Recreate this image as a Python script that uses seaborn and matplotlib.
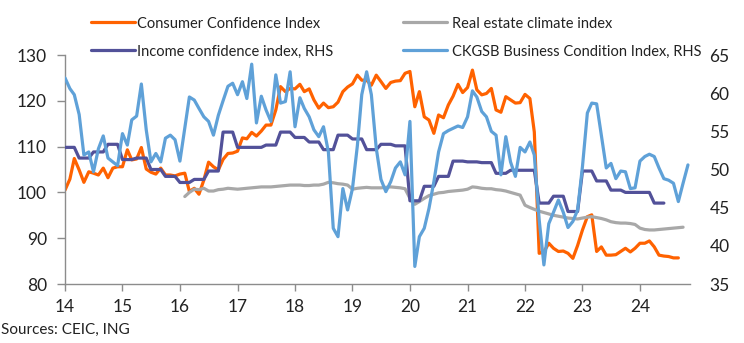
import numpy as np
import pandas as pd
import matplotlib
matplotlib.use("Agg")
import matplotlib.pyplot as plt
import matplotlib.dates as mdates
from matplotlib.lines import Line2D
import seaborn as sns

sns.set_style("white")
plt.rcParams['font.family'] = ['Lato', 'DejaVu Sans']

# ---------------- data (monthly, Jan 2014 onwards) ----------------
cci = [100.5, 102.9, 107.4, 104.9, 102.2, 104.5, 104.2, 103.8, 105.3, 103.2, 105.3, 105.6,
       105.6, 109.3, 107.1, 107.3, 109.8, 105.1, 104.4, 104.0, 105.3, 103.8, 103.8, 103.6,
       104.0, 104.2, 100.2, 100.9, 99.6, 102.7, 106.6, 105.6, 104.9, 107.2, 108.5, 108.6,
       109.0, 111.9, 111.7, 113.1, 112.3, 113.4, 114.7, 114.7, 118.0, 123.1, 122.0, 122.7,
       122.6, 123.6, 122.0, 122.6, 120.2, 118.4, 119.5, 118.5, 118.7, 119.7, 122.0, 123.0,
       123.7, 125.6, 124.5, 124.5, 123.4, 125.6, 124.2, 122.7, 124.0, 124.3, 124.4, 126.0,
       126.4, 118.7, 122.0, 116.5, 115.8, 112.9, 116.9, 116.3, 119.1, 121.0, 123.6, 121.8,
       122.9, 126.7, 122.4, 121.3, 121.6, 122.7, 118.0, 117.5, 120.9, 120.2, 119.5, 119.6,
       121.4, 120.5, 113.2, 86.7, 87.0, 88.9, 87.8, 87.1, 87.2, 86.7, 85.6, 88.4,
       91.8, 94.7, 95.1, 87.1, 88.1, 86.3, 86.3, 86.4, 87.1, 87.8, 87.0, 87.8,
       88.9, 88.9, 89.4, 88.1, 86.3, 86.1, 86.0, 85.7, 85.7]

real_estate_start = "2016-02-01"
real_estate = [99.1, 100.0, 100.7, 100.6, 100.9, 100.3, 100.3, 100.6, 100.7, 100.9, 100.8,
               100.7, 100.8, 100.9, 101.0, 101.1, 101.2, 101.2, 101.2, 101.3, 101.4, 101.5, 101.6,
               101.6, 101.6, 101.5, 101.5, 101.6, 101.6, 101.8, 102.2, 102.1, 101.9, 101.8, 101.6,
               100.7, 100.9, 101.0, 101.1, 101.0, 101.0, 101.0, 101.1, 101.2, 101.1, 101.0, 100.8,
               98.7, 97.4, 98.0, 98.7, 99.3, 99.6, 99.9, 100.0, 100.2, 100.3, 100.4, 100.5,
               100.7, 101.2, 101.1, 100.9, 100.8, 100.8, 100.6, 100.5, 100.3, 100.0, 99.7, 99.4,
               97.2, 96.7, 96.3, 95.9, 95.6, 95.3, 95.0, 94.8, 94.6, 94.4, 94.3, 94.2,
               94.4, 94.6, 94.7, 94.5, 94.3, 94.0, 93.6, 93.4, 93.3, 93.3, 93.2, 93.0,
               92.2, 91.9, 91.8, 91.8, 91.9, 92.0, 92.1, 92.2, 92.3, 92.4]

# quarterly survey, 2014Q1 .. 2024Q2 (shown monthly as steps)
income_q = [52.9, 51.5, 52.3, 53.3,
            51.3, 51.5, 50.0, 49.1,
            48.3, 48.7, 49.8, 54.9,
            52.9, 52.9, 53.2, 54.9,
            54.2, 53.6, 52.6, 54.5,
            54.0, 52.6, 53.3, 53.1,
            45.9, 47.8, 49.1, 51.1,
            51.0, 50.9, 49.5, 49.9,
            49.9, 45.6, 46.5, 44.5,
            49.8, 48.5, 47.3, 47.0,
            47.0, 45.6]

ckgsb = [62.0, 60.6, 59.8, 57.2, 51.9, 52.3, 49.7, 52.7, 54.4, 51.5, 51.0, 50.5,
         54.7, 53.2, 56.5, 57.0, 61.2, 55.2, 51.0, 52.1, 51.0, 54.1, 54.5, 53.9,
         51.1, 55.4, 59.5, 59.1, 58.0, 56.9, 56.3, 54.5, 57.1, 59.0, 60.9, 61.3,
         59.8, 61.5, 59.3, 63.8, 56.1, 59.6, 57.8, 56.3, 62.4, 58.7, 58.9, 62.8,
         55.6, 59.4, 58.0, 56.9, 55.2, 54.3, 55.6, 52.3, 42.3, 41.2, 47.5, 44.7,
         47.5, 53.1, 59.8, 62.8, 59.8, 52.8, 48.7, 47.1, 48.4, 50.2, 51.0, 49.3,
         56.3, 37.3, 41.2, 42.3, 44.9, 48.4, 52.3, 54.7, 55.1, 55.4, 55.7, 55.5,
         56.9, 60.3, 59.5, 57.6, 56.9, 55.0, 54.5, 49.3, 54.3, 51.0, 49.1, 52.9,
         52.3, 53.6, 51.9, 43.4, 37.5, 42.9, 44.4, 46.0, 44.4, 42.4, 43.2, 44.7,
         50.4, 57.4, 58.7, 58.6, 54.5, 50.2, 50.8, 48.8, 49.8, 49.7, 47.5, 47.6,
         51.1, 51.7, 52.0, 51.7, 50.2, 48.8, 48.6, 48.2, 45.8, 48.2, 50.6]

labels = ["Consumer Confidence Index", "Real estate climate index",
          "Income confidence index, RHS", "CKGSB Business Condition Index, RHS"]
year_ticks = list(range(2014, 2025))

ORANGE = "#FF6200"
GREY = "#A8A8A8"
VIOLET = "#525199"
BLUE = "#5FA1D8"

income = np.repeat(income_q, 3)

df_cci = pd.DataFrame({"date": pd.date_range("2014-01-01", periods=len(cci), freq="MS"), "v": cci})
df_re = pd.DataFrame({"date": pd.date_range(real_estate_start, periods=len(real_estate), freq="MS"), "v": real_estate})
df_inc = pd.DataFrame({"date": pd.date_range("2014-01-01", periods=len(income), freq="MS"), "v": income})
df_ck = pd.DataFrame({"date": pd.date_range("2014-01-01", periods=len(ckgsb), freq="MS"), "v": ckgsb})

W, H = 744, 343
fig = plt.figure(figsize=(W / 100, H / 100), dpi=100)
ax = fig.add_axes([65 / W, 1 - 284 / H, 625 / W, 229 / H])
ax2 = ax.twinx()

lw = 2.3
sns.lineplot(data=df_cci, x="date", y="v", ax=ax, color=ORANGE, lw=lw, legend=False)
sns.lineplot(data=df_re, x="date", y="v", ax=ax, color=GREY, lw=lw, legend=False)
sns.lineplot(data=df_inc, x="date", y="v", ax=ax2, color=VIOLET, lw=lw, legend=False)
sns.lineplot(data=df_ck, x="date", y="v", ax=ax2, color=BLUE, lw=lw, legend=False)

ax.set_ylim(80, 130)
ax.set_yticks([80, 90, 100, 110, 120, 130])
ax2.set_ylim(35, 65)
ax2.set_yticks([35, 40, 45, 50, 55, 60, 65])
ax.set_xlim(pd.Timestamp("2014-01-01"), pd.Timestamp("2024-11-14"))
ax.set_xticks([pd.Timestamp(f"{y}-01-01") for y in year_ticks])
ax.xaxis.set_major_formatter(mdates.DateFormatter("%y"))

for a in (ax, ax2):
    a.set_xlabel("")
    a.set_ylabel("")
    a.grid(False)
    for s in a.spines.values():
        s.set_visible(False)
ax2.patch.set_visible(False)

spine_c = "#8C8C8C"
ax.spines["left"].set_visible(True)
ax.spines["bottom"].set_visible(True)
ax.spines["left"].set_color(spine_c)
ax.spines["bottom"].set_color(spine_c)
ax.spines["left"].set_linewidth(1.0)
ax.spines["bottom"].set_linewidth(1.0)

txt_c = "#222222"
ax.tick_params(axis="y", which="major", left=True, length=6, width=1.0, color=spine_c,
               labelsize=12.5, labelcolor=txt_c, pad=7)
ax.tick_params(axis="x", which="major", bottom=True, length=5, width=1.0, color=spine_c,
               labelsize=12.5, labelcolor=txt_c, pad=6)
ax2.tick_params(axis="y", which="major", right=True, length=0, labelsize=12.5,
                labelcolor=txt_c, pad=14)

def h(c):
    return Line2D([0], [0], color=c, lw=lw)

leg1 = fig.legend([h(ORANGE), h(VIOLET)], [labels[0], labels[2]], loc="center left",
                  bbox_to_anchor=(91 / W, 1 - 37.5 / H), frameon=False, fontsize=10.5,
                  handlelength=3.0, handletextpad=0.15, labelspacing=0.95,
                  borderpad=0, borderaxespad=0)
leg2 = fig.legend([h(GREY), h(BLUE)], [labels[1], labels[3]], loc="center left",
                  bbox_to_anchor=(403 / W, 1 - 37.5 / H), frameon=False, fontsize=10.5,
                  handlelength=3.0, handletextpad=0.35, labelspacing=0.95,
                  borderpad=0, borderaxespad=0)
for lg in (leg1, leg2):
    for t in lg.get_texts():
        t.set_color(txt_c)

fig.text(1 / W, 1 - 330 / H, "Sources: CEIC, ING", fontsize=11, color=txt_c, va="center", ha="left")

fig.savefig("out.png", dpi=100)
